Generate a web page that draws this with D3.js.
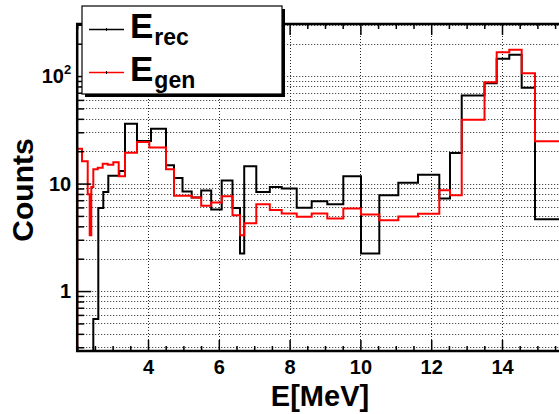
<!DOCTYPE html>
<html><head><meta charset="utf-8">
<script src="https://cdn.jsdelivr.net/npm/d3@7"></script>
<style>
body{margin:0;background:#fff;}
svg{display:block;font-family:"Liberation Sans",Arial,Helvetica,sans-serif;font-weight:bold;}
</style></head>
<body><svg id="c" width="559" height="414"></svg>
<script>
// ---- data ----
const recEdges = [2.455, 2.596, 2.737, 2.879, 3.189, 3.350, 3.689, 4.085, 4.508, 4.734, 4.975, 5.234, 5.503, 5.785, 6.082, 6.387, 6.599, 6.718, 7.059, 7.441, 7.777, 8.201, 8.624, 9.065, 9.517, 10.017, 10.534, 11.071, 11.627, 12.229, 12.531, 12.862, 13.506, 13.850, 14.206, 14.556, 14.932, 16.0];
const recCounts = [0.55, 5.94, 8.36, 11.8, 13.1, 36.1, 24.9, 32.4, 14.8, 11.25, 8.43, 7.41, 8.61, 5.75, 10.66, 5.94, 2.24, 14.5, 8.36, 9.30, 8.99, 5.96, 6.85, 6.43, 11.7, 2.24, 7.79, 10.2, 12.1, 7.26, 19.2, 66.0, 85.9, 144.8, 157.7, 77.9, 4.66];
const genEdges = [2.0, 2.136, 2.297, 2.353, 2.398, 2.455, 2.579, 2.720, 2.862, 3.020, 3.172, 3.350, 3.689, 4.037, 4.508, 4.734, 5.234, 5.503, 5.785, 6.082, 6.387, 6.599, 6.718, 7.059, 7.441, 7.777, 8.201, 8.624, 9.065, 9.517, 10.017, 10.534, 11.071, 11.627, 12.229, 12.531, 12.862, 13.506, 13.850, 14.206, 14.556, 14.932, 16.0];
const genCounts = [21.1, 16.1, 7.96, 3.31, 9.30, 13.6, 14.0, 15.3, 15.0, 15.8, 11.7, 19.4, 24.4, 21.7, 13.6, 7.70, 7.41, 6.22, 6.66, 7.62, 5.08, 3.31, 4.28, 6.43, 5.68, 5.27, 4.92, 5.27, 4.73, 5.86, 5.15, 4.56, 4.94, 5.24, 8.67, 7.79, 39.3, 87.8, 166.7, 175.5, 106.4, 24.7];
const xMajorTicks = [4, 6, 8, 10, 12, 14];
const yMajorTicks = [1, 10, 100];
const yLabels = ["1", "10", "10^2"];
const xTitle = "E[MeV]";
const yTitle = "Counts";
const legendNames = [["E", "rec"], ["E", "gen"]];
const seriesColors = ["#000000", "#ff0000"];

// ---- layout ----
const svg = d3.select("#c");
const X0 = 77.2, X1 = 572.8, Y0 = 24, Y1 = 351;
const x = d3.scaleLinear().domain([2, 16]).range([X0, X1]);
const y = d3.scaleLog().domain([0.277, 305]).range([Y1, Y0]);

const xMinor = d3.range(2, 16.01, 0.5).filter(v => xMajorTicks.indexOf(v) < 0);
const yAll = [];
[0.1, 1, 10, 100].forEach(d => { for (let k = 1; k <= 9; k++) { const v = +(k * d).toPrecision(3); if (v >= 0.277 && v <= 305) yAll.push(v); } });
const yMinor = yAll.filter(v => yMajorTicks.indexOf(v) < 0);

svg.append("defs").append("clipPath").attr("id", "fr").append("rect")
  .attr("x", X0).attr("y", Y0).attr("width", X1 - X0).attr("height", Y1 - Y0);

// grid
const grid = svg.append("g").attr("stroke", "#000").attr("stroke-width", 1).attr("stroke-dasharray", "1,2").attr("opacity", 0.85);
grid.selectAll("line.h").data(yAll).join("line")
  .attr("x1", X0).attr("x2", X1).attr("y1", d => Math.round(y(d)) + 0.5).attr("y2", d => Math.round(y(d)) + 0.5);
grid.selectAll("line.v").data(xMajorTicks).join("line")
  .attr("y1", Y0).attr("y2", Y1).attr("x1", d => Math.round(x(d)) + 0.5).attr("x2", d => Math.round(x(d)) + 0.5);

// histograms
function stepPath(edges, vals) {
  const p = d3.path();
  p.moveTo(x(edges[0]), Y1 + 5);
  vals.forEach((v, i) => { p.lineTo(x(edges[i]), y(v)); p.lineTo(x(edges[i + 1]), y(v)); });
  p.lineTo(x(edges[edges.length - 1]), Y1 + 5);
  return p.toString();
}
const hg = svg.append("g").attr("clip-path", "url(#fr)").attr("fill", "none").attr("stroke-width", 2).attr("stroke-linejoin", "miter");
hg.append("path").attr("d", stepPath(recEdges, recCounts)).attr("stroke", seriesColors[0]);
hg.append("path").attr("d", stepPath(genEdges, genCounts)).attr("stroke", seriesColors[1]);

// axes (ticks inside frame)
function styleAxis(g) { g.select(".domain").remove(); g.selectAll("line").attr("stroke", "#000").attr("stroke-width", 1.5); }
svg.append("g").attr("transform", `translate(0,${Y1})`)
  .call(d3.axisBottom(x).tickValues(xMajorTicks).tickSize(-11).tickPadding(9).tickFormat(d3.format("d")))
  .call(styleAxis)
  .call(g => g.selectAll("text").attr("font-size", 20).attr("font-weight", "bold").attr("fill", "#000").attr("font-family", "Liberation Sans, Arial, sans-serif"));
svg.append("g").attr("transform", `translate(0,${Y1})`)
  .call(d3.axisBottom(x).tickValues(xMinor).tickSize(-5).tickFormat("")).call(styleAxis);
svg.append("g").attr("transform", `translate(0,${Y0})`)
  .call(d3.axisTop(x).tickValues(xMajorTicks).tickSize(-11).tickFormat("")).call(styleAxis);
svg.append("g").attr("transform", `translate(0,${Y0})`)
  .call(d3.axisTop(x).tickValues(xMinor).tickSize(-5).tickFormat("")).call(styleAxis);
svg.append("g").attr("transform", `translate(${X0},0)`)
  .call(d3.axisLeft(y).tickValues(yMajorTicks).tickSize(-14).tickFormat(""))
  .call(styleAxis);
svg.append("g").attr("transform", `translate(${X0},0)`)
  .call(d3.axisLeft(y).tickValues(yMinor).tickSize(-7).tickFormat("")).call(styleAxis);

// y labels
const yl = svg.append("g").attr("font-size", 20).attr("text-anchor", "end");
yMajorTicks.forEach((v, i) => {
  const t = yl.append("text").attr("x", X0 - 6).attr("y", y(v)).attr("dy", "0.36em");
  const parts = yLabels[i].split("^");
  t.append("tspan").text(parts[0]);
  if (parts[1]) t.append("tspan").attr("font-size", 13).attr("dy", "-0.75em").text(parts[1]);
});

// frame
svg.append("rect").attr("x", X0).attr("y", Y0).attr("width", X1 - X0).attr("height", Y1 - Y0)
  .attr("fill", "none").attr("stroke", "#000").attr("stroke-width", 2.5);

// titles
svg.append("text").attr("x", 320).attr("y", 406).attr("text-anchor", "middle").attr("font-size", 29).text(xTitle);
svg.append("text").attr("transform", "translate(33,190) rotate(-90)").attr("text-anchor", "middle").attr("font-size", 30).text(yTitle);

// legend
const L = { x: 82, y: 6, w: 200, h: 88 };
svg.append("rect").attr("x", L.x + 3).attr("y", L.y + 3).attr("width", L.w).attr("height", L.h).attr("fill", "#000");
svg.append("rect").attr("x", L.x).attr("y", L.y).attr("width", L.w).attr("height", L.h).attr("fill", "#fff").attr("stroke", "#000").attr("stroke-width", 1.2);
const rowY = [29.5, 72.5];
legendNames.forEach((nm, i) => {
  const g = svg.append("g");
  g.append("line").attr("x1", 89).attr("x2", 124).attr("y1", rowY[i]).attr("y2", rowY[i]).attr("stroke", seriesColors[i]).attr("stroke-width", 1.3);
  g.append("line").attr("x1", 106.5).attr("x2", 106.5).attr("y1", rowY[i] - 1.5).attr("y2", rowY[i] + 1.5).attr("stroke", "#000").attr("stroke-width", 1);
  const t = g.append("text").attr("x", 130).attr("y", rowY[i] + 8.5).attr("font-size", 35);
  t.append("tspan").text(nm[0]);
  t.append("tspan").attr("font-size", 23).attr("dy", 6.5).attr("dx", 1).text(nm[1]);
});
</script>
</body></html>
